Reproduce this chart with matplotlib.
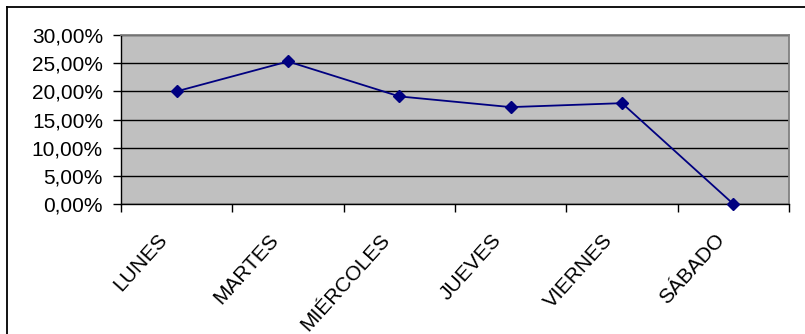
import matplotlib
matplotlib.use("Agg")
import matplotlib.pyplot as plt
from matplotlib.lines import Line2D
from matplotlib.ticker import FuncFormatter

# Porcentaje por día de la semana
dias = ["LUNES", "MARTES", "MIÉRCOLES", "JUEVES", "VIERNES", "SÁBADO"]
porcentajes = [20.0, 25.3, 19.1, 17.2, 17.9, 0.0]

plt.rcParams["font.family"] = ["Liberation Sans", "DejaVu Sans"]

fig = plt.figure(figsize=(8.05, 3.34), dpi=100)
ax = fig.add_axes([121 / 805, 130 / 334, 668 / 805, 169 / 334])

# marco exterior del gráfico
fig.add_artist(Line2D([7 / 805, 7 / 805], [0, 1 - 7 / 334], transform=fig.transFigure,
                      color="black", lw=1.3))
fig.add_artist(Line2D([7 / 805, 1], [1 - 7 / 334, 1 - 7 / 334], transform=fig.transFigure,
                      color="black", lw=1.3))

ax.set_facecolor("#C0C0C0")
x = list(range(len(dias)))
ax.plot(x, porcentajes, color="#000080", lw=1.3, marker="D", markersize=6.5,
        markerfacecolor="#000080", markeredgecolor="#000080", clip_on=False, zorder=5)

ax.set_xlim(-0.5, len(dias) - 0.5)
ax.set_ylim(0, 30)
ax.set_yticks(range(0, 31, 5))
ax.yaxis.set_major_formatter(FuncFormatter(lambda v, p: f"{v:.2f}%".replace(".", ",")))
ax.grid(axis="y", color="black", lw=1)
ax.set_axisbelow(True)

# ticks entre categorías
ax.set_xticks([i - 0.5 for i in range(len(dias) + 1)])
ax.set_xticklabels([])
ax.tick_params(axis="x", direction="out", length=6, width=1)
ax.tick_params(axis="y", direction="out", length=6, width=1, labelsize=15, pad=7)
for i, d in enumerate(dias):
    ax.annotate(d, xy=(i, 0), xycoords="data", xytext=(-14, -19), textcoords="offset points",
                rotation=48, ha="right", va="top", rotation_mode="anchor", fontsize=15)

for s in ["top", "right"]:
    ax.spines[s].set_color("#808080")
    ax.spines[s].set_linewidth(1.3)
for s in ["left", "bottom"]:
    ax.spines[s].set_color("black")
    ax.spines[s].set_linewidth(1)

fig.savefig("out.png", dpi=100)
